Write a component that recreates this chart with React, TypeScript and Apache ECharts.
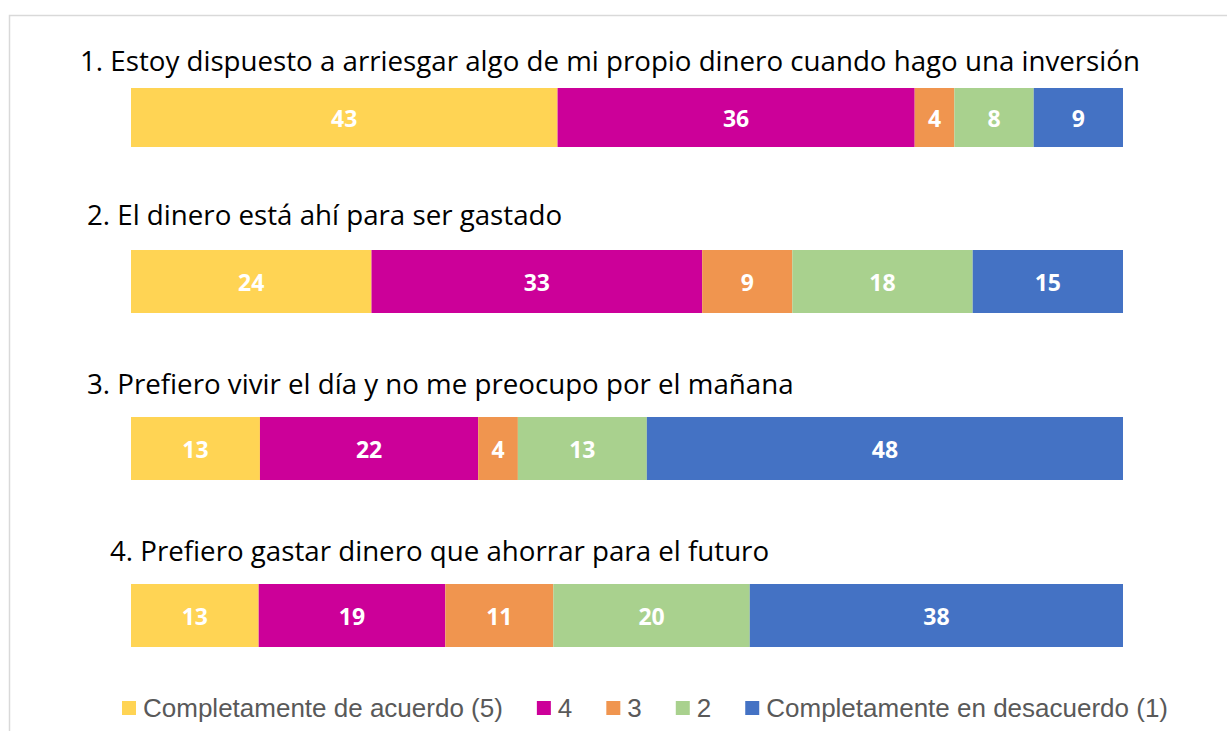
import React, { useEffect, useRef } from "react";
import * as echarts from "echarts";

const questions = [
  "1. Estoy dispuesto a arriesgar algo de mi propio dinero cuando hago una inversión",
  "2. El dinero está ahí para ser gastado",
  "3. Prefiero vivir el día y no me preocupo por el mañana",
  "4. Prefiero gastar dinero que ahorrar para el futuro",
];
const seriesNames = ["Completamente de acuerdo (5)", "4", "3", "2", "Completamente en desacuerdo (1)"];
const agree5 = [43, 24, 13, 13];
const four = [36, 33, 22, 19];
const three = [4, 9, 4, 11];
const two = [8, 18, 13, 20];
const disagree1 = [9, 15, 48, 38];
const colors = ["#FFD454", "#CC0099", "#F0954F", "#A9D18E", "#4472C4"];

const seriesValues = [agree5, four, three, two, disagree1];
const titleX = [80, 87, 87, 110];
const titleY = [60, 214, 383, 550];
const gridTops = [88, 250, 417, 584];
const gridHeights = [59, 63, 63, 63];

export default function App() {
  const ref = useRef<HTMLDivElement>(null);
  useEffect(() => {
    if (!ref.current) return;
    const chart = echarts.init(ref.current, null, { renderer: "svg" });
    const grids = questions.map((_, i) => ({
      left: 131,
      width: 992,
      top: gridTops[i],
      height: gridHeights[i],
    }));
    const xAxes = questions.map((_, i) => ({
      type: "value",
      gridIndex: i,
      min: 0,
      max: 100,
      show: false,
    }));
    const yAxes = questions.map((_, i) => ({
      type: "category",
      gridIndex: i,
      data: [questions[i]],
      show: false,
    }));
    const series: any[] = [];
    questions.forEach((_, qi) => {
      const total = seriesValues.reduce((s, arr) => s + arr[qi], 0);
      seriesValues.forEach((arr, si) => {
        series.push({
          name: seriesNames[si],
          type: "bar",
          xAxisIndex: qi,
          yAxisIndex: qi,
          stack: "q" + qi,
          barWidth: "100%",
          itemStyle: { color: colors[si] },
          label: {
            show: true,
            position: "inside",
            color: "#ffffff",
            fontWeight: "bold",
            fontSize: 23,
            fontFamily: "Open Sans",
            formatter: (p: any) => String(p.data.raw),
          },
          data: [{ value: (arr[qi] / total) * 100, raw: arr[qi] }],
        });
      });
    });
    chart.setOption({
      animation: false,
      color: colors,
      grid: grids,
      xAxis: xAxes,
      yAxis: yAxes,
      legend: {
        data: seriesNames,
        left: 117,
        top: 690,
        icon: "rect",
        itemWidth: 14,
        itemHeight: 14,
        itemGap: 34,
        textStyle: { color: "#595959", fontSize: 26, fontFamily: "Liberation Sans", padding: [0, 0, 0, 2] },
      },
      graphic: [
        {
          type: "rect",
          shape: { x: 9.5, y: 15.5, width: 1300, height: 800 },
          style: { fill: "none", stroke: "#d9d9d9", lineWidth: 1.5 },
          silent: true,
        },
        ...questions.map((q, i) => ({
          type: "text",
          x: titleX[i],
          y: titleY[i],
          style: {
            text: q,
            fill: "#000000",
            font: "27.7px 'Open Sans'",
            textVerticalAlign: "middle",
          },
        })),
      ],
      series,
    });
    return () => chart.dispose();
  }, []);
  return (
    <div
      ref={ref}
      style={{ position: "fixed", left: 0, top: 0, width: 1227, height: 731, background: "#fff" }}
    />
  );
}
